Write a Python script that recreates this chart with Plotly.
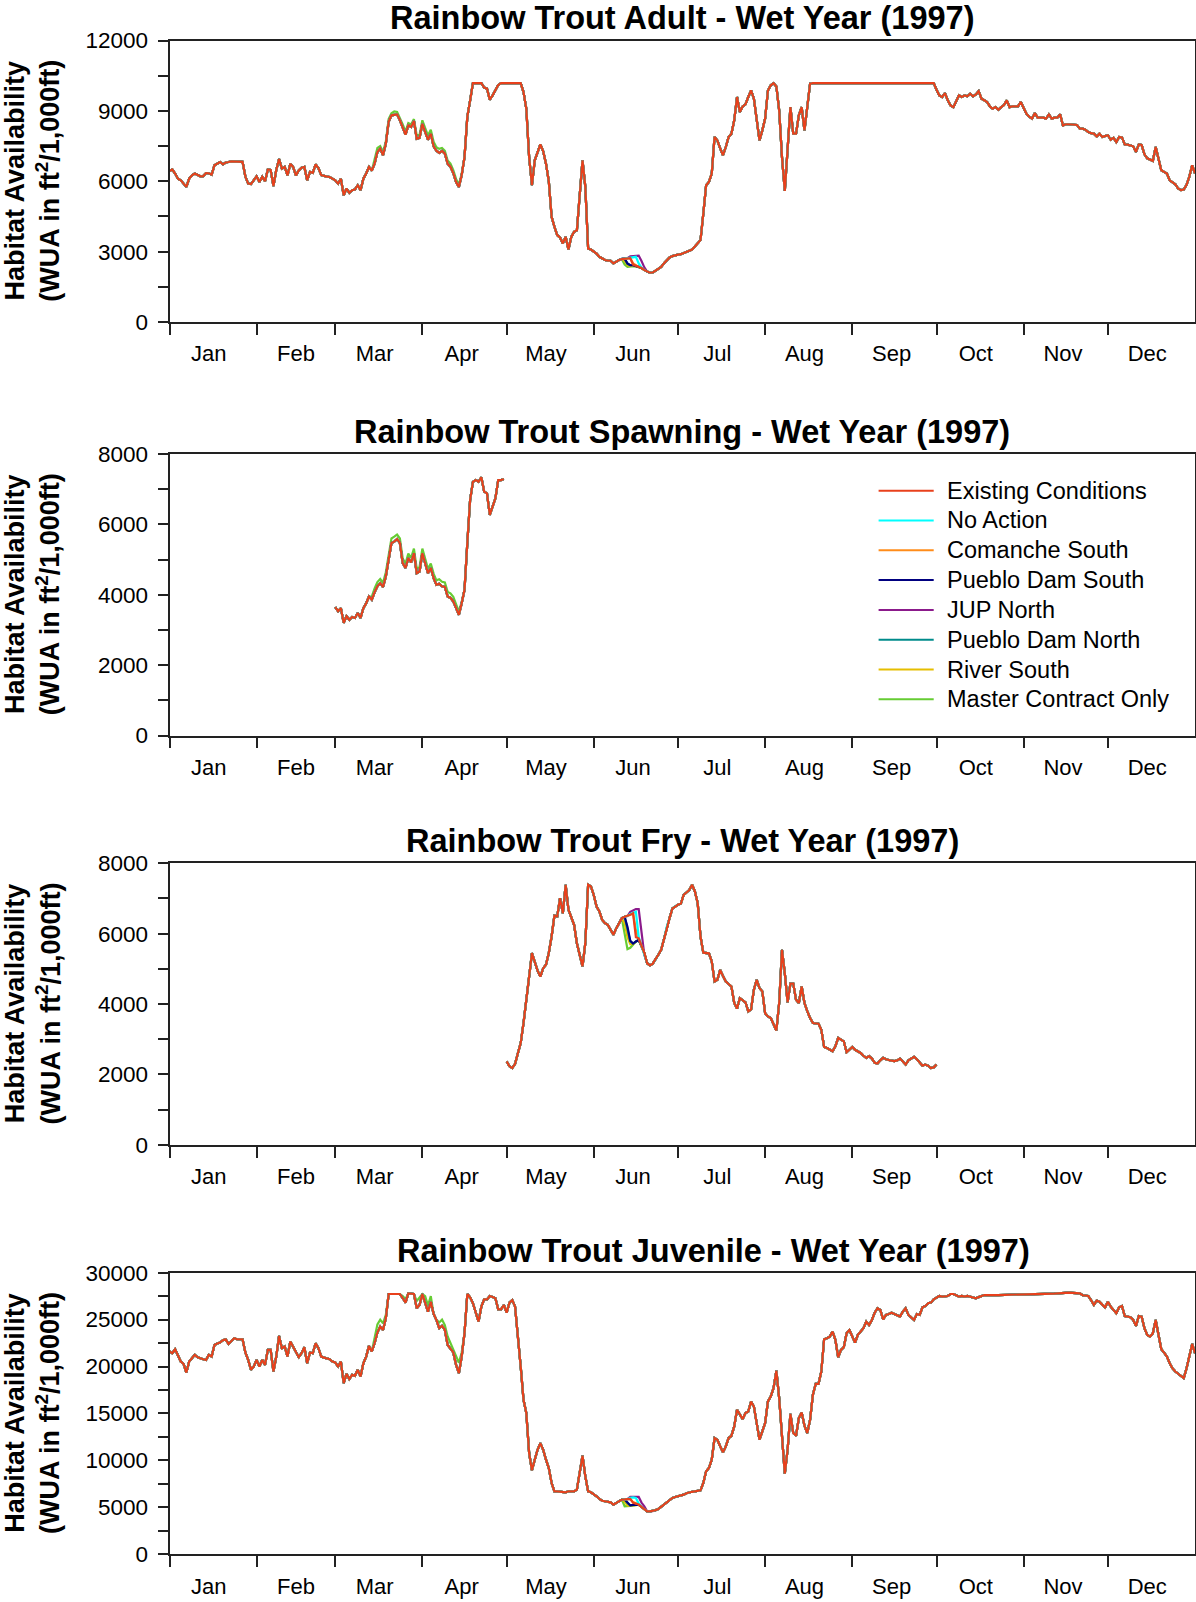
import plotly.graph_objects as go

W, H = 1196, 1602

# ---------------- categories / ticks ----------------
months = ["Jan", "Feb", "Mar", "Apr", "May", "Jun", "Jul", "Aug", "Sep", "Oct", "Nov", "Dec"]
month_start_day = [0, 31, 59, 90, 120, 151, 181, 212, 243, 273, 304, 334]
month_label_day = [14, 45, 73, 104, 134, 165, 195, 226, 257, 287, 318, 348]

scenarios = ["Existing Conditions", "No Action", "Comanche South", "Pueblo Dam South",
             "JUP North", "Pueblo Dam North", "River South", "Master Contract Only"]
colors = ["#E8401C", "#00FFFF", "#FF8C1A", "#000080", "#8B1A8B", "#008B8B", "#E6BE00", "#66CC33"]

titles = ["Rainbow Trout Adult - Wet Year (1997)", "Rainbow Trout Spawning - Wet Year (1997)",
          "Rainbow Trout Fry - Wet Year (1997)", "Rainbow Trout Juvenile - Wet Year (1997)"]
y_max = [12000, 8000, 8000, 30000]
y_major = [3000, 2000, 2000, 5000]
y_minor = [1500, 1000, 1000, 2500]

# ---------------- Adult (Existing Conditions, day of year -> WUA) ----------------
adult_day = [0, 1, 2, 3, 4, 5, 6, 7, 8, 9, 10, 11, 12, 13, 14, 15, 16, 17, 18, 19, 20, 21, 22, 24, 26,
             27, 28, 29, 30, 31, 32, 33, 34, 35, 36, 37, 38, 39, 40, 41, 42, 43, 44, 45, 46, 47, 48, 49,
             50, 51, 52, 53, 54, 55, 56, 57, 58, 59, 60, 61, 62, 63, 64, 65, 66, 67, 68, 69, 70, 71, 72,
             73, 74, 75, 76, 77, 78, 79, 80, 81, 82, 83, 84, 85, 86, 87, 88, 89, 90, 91, 92, 93, 94, 95,
             96, 97, 98, 99, 100, 101, 102, 103, 104, 105, 106, 107, 108, 111, 112, 113, 114, 115, 116,
             117, 118, 125, 126, 127, 128, 129, 130, 131, 132, 133, 134, 135, 136, 137, 138, 139, 140,
             141, 142, 143, 144, 145, 146, 147, 148, 149, 150, 151, 152, 153, 154, 155, 156, 157, 158,
             159, 160, 161, 162, 163, 164, 165, 166, 167, 168, 169, 170, 171, 172, 173, 174, 175, 176,
             177, 178, 179, 180, 181, 182, 183, 184, 185, 186, 187, 188, 189, 190, 191, 192, 193, 194,
             195, 196, 197, 198, 199, 200, 201, 202, 203, 204, 205, 206, 207, 208, 209, 210, 211, 212,
             213, 214, 215, 216, 217, 218, 219, 220, 221, 222, 223, 224, 225, 226, 227, 228, 229, 272,
             273, 274, 275, 276, 277, 278, 279, 280, 281, 282, 283, 284, 285, 286, 287, 288, 289, 290,
             291, 292, 293, 294, 295, 296, 297, 298, 299, 300, 301, 302, 303, 304, 305, 306, 307, 308,
             309, 310, 311, 312, 313, 314, 315, 316, 317, 318, 319, 320, 321, 322, 323, 324, 325, 326,
             327, 328, 329, 330, 331, 332, 333, 334, 335, 336, 337, 338, 339, 340, 341, 342, 343, 344,
             345, 346, 347, 348, 349, 350, 351, 352, 353, 354, 355, 356, 357, 358, 359, 360, 361, 362,
             363, 364, 365]
adult_wua = [6440, 6500, 6330, 6110, 6040, 5900, 5760, 6110, 6250, 6330, 6260, 6210, 6220, 6350, 6340,
             6280, 6680, 6750, 6820, 6720, 6800, 6820, 6850, 6840, 6830,
             6200, 5900, 5880, 6050, 6210, 5970, 6190, 6000, 6500, 6480, 5790, 6480, 6950, 6540, 6610,
             6250, 6750, 6610, 6250, 6460, 6580, 6610, 6040,
             6400, 6360, 6720, 6560, 6260, 6220, 6200, 6180, 6110, 6040, 5900, 6110, 5400, 5690, 5510,
             5620, 5650, 5830, 5620, 6110, 6330, 6610, 6450,
             6750, 7250, 7390, 7110, 7600, 8530, 8810, 8830, 8850, 8600, 8300, 7990, 8380, 8310, 8570,
             7810, 7850, 8450, 8100, 7770, 8030, 7490, 7300,
             7210, 7290, 7180, 6750, 6620, 6350, 5970, 5760, 6260, 7030, 8740, 9450, 10180, 10180, 9990,
             9950, 9480, 9660, 9870,
             10100, 10180, 10180, 9800, 9090, 7030, 5830, 6890, 7250, 7570, 7280, 6750, 6000, 4480, 4060,
             3700, 3600, 3350,
             3630, 3090, 3630, 3840, 3910, 5330, 6890, 5760, 3130, 3090, 3000, 2920, 2780, 2700, 2640,
             2620, 2610, 2500,
             2580, 2640, 2680, 2700, 2710, 2720, 2450, 2400, 2350, 2300, 2210, 2150, 2100, 2110, 2180,
             2260, 2350, 2500,
             2640, 2750, 2810, 2850, 2870, 2890, 2950, 2990, 3040, 3090, 3210, 3350, 3490, 4620, 5830,
             5970, 6330, 7890,
             7740, 7400, 7110, 7460, 7890, 8030, 8600, 9590, 8950, 9190, 9280, 9590, 9870, 9520, 8530,
             7740, 8170, 8670,
             9870, 10090, 10180, 10040, 9020, 7030, 5590, 7390, 9160, 8030, 8030, 8810, 9160, 8170, 9300,
             10160, 10180, 10180,
             9900, 9660, 9590, 9760, 9450, 9230, 9160, 9380, 9660, 9590, 9660, 9620, 9730, 9620, 9700,
             9840, 9520, 9450,
             9380, 9190, 9090, 9160, 9050, 9160, 9250, 9450, 9160, 9190, 9190, 9190, 9380, 9100, 8880,
             8750, 8670, 8910,
             8710, 8710, 8710, 8670, 8850, 8670, 8710, 8710, 8850, 8380, 8430, 8430, 8430, 8430, 8400,
             8240, 8240, 8200,
             8100, 8050, 8030, 7910, 8030, 7890, 7920, 7960, 7770, 7850, 7670, 7890, 7870, 7570, 7560,
             7540, 7490, 7250,
             7570, 7550, 7150, 6980, 6920, 6870, 7460, 7000, 6470, 6400, 6330, 6040, 5950, 5870, 5690,
             5620, 5650, 5850,
             6200, 6680, 6330]

# Adult: Master Contract Only runs slightly higher in March/early April
adult_mar_day = [73, 74, 75, 76, 77, 78, 79, 80, 81, 82, 83, 84, 85, 86, 87, 88, 89, 90, 91, 92, 93,
                 94, 95, 96, 97, 98, 99, 100, 101, 102, 103, 104]
adult_mar_master = [6900, 7420, 7500, 7250, 7700, 8650, 8900, 8980, 8950, 8700, 8420, 8120, 8480, 8420,
                    8650, 7950, 7980, 8600, 8250, 7950, 8200, 7680, 7450, 7380, 7420, 7300, 6880, 6750,
                    6470, 6100, 5850, 6330]

# Adult: June divergence between alternatives
adult_jun_day = [161, 162, 163, 164, 165, 166, 167, 168, 169]
adult_jun = {
    "No Action":            [2680, 2700, 2720, 2760, 2780, 2780, 2500, 2320, 2210],
    "Comanche South":       [2680, 2700, 2710, 2720, 2500, 2420, 2350, 2300, 2210],
    "Pueblo Dam South":     [2690, 2700, 2500, 2420, 2420, 2400, 2350, 2300, 2210],
    "JUP North":            [2680, 2700, 2720, 2800, 2810, 2820, 2830, 2600, 2330],
    "Pueblo Dam North":     [2690, 2700, 2480, 2420, 2420, 2400, 2350, 2300, 2210],
    "River South":          [2680, 2600, 2420, 2390, 2400, 2380, 2350, 2300, 2210],
    "Master Contract Only": [2680, 2450, 2350, 2370, 2380, 2370, 2350, 2300, 2210],
}

# ---------------- Spawning ----------------
spawn_day = [59, 60, 61, 62, 63, 64, 65, 66, 67, 68, 69, 70, 71, 72, 73, 74, 75, 76, 77, 78, 79, 80,
             81, 82, 83, 84, 85, 86, 87, 88, 89, 90, 91, 92, 93, 94, 95, 96, 97, 98, 99, 100, 101, 102,
             103, 104, 105, 106, 107, 108, 109, 110, 111, 112, 113, 114, 115, 116, 117, 118, 119]
spawn_wua = [3650, 3530, 3620, 3200, 3390, 3290, 3370, 3340, 3480, 3340, 3620, 3760, 3950, 3860, 4070,
             4240, 4330, 4220, 4520, 4990, 5470, 5510, 5580, 5470, 4900, 4760, 5040, 4920, 5180, 4610,
             4660, 5180, 4850, 4610, 4760, 4470, 4280, 4310, 4240, 4220, 3950, 3910, 3810, 3620, 3430,
             3760, 4140, 5470, 6700, 7210, 7260, 7210, 7340, 6930, 6880, 6270, 6510, 6740, 7260, 7260,
             7290]
spawn_mar_day = [72, 73, 74, 75, 76, 77, 78, 79, 80, 81, 82, 83, 84, 85, 86, 87, 88, 89, 90, 91, 92,
                 93, 94, 95, 96, 97, 98, 99, 100, 101, 102, 103, 104]
spawn_mar_master = [3950, 4180, 4360, 4450, 4340, 4640, 5110, 5600, 5650, 5710, 5600, 5030, 4890, 5170,
                    5050, 5310, 4740, 4790, 5310, 4980, 4740, 4890, 4600, 4410, 4440, 4370, 4350, 4080,
                    4040, 3940, 3750, 3520, 3800]

# ---------------- Fry ----------------
fry_day = [120, 121, 122, 123, 124, 125, 126, 127, 128, 129, 130, 131, 132, 133, 134, 135, 136, 137,
           138, 139, 140, 141, 142, 143, 144, 145, 146, 147, 148, 149, 150, 151, 152, 153, 154, 155,
           156, 157, 158, 159, 160, 161, 162, 163, 164, 165, 166, 167, 168, 169, 170, 171, 172, 173,
           174, 175, 176, 177, 178, 179, 180, 181, 182, 183, 184, 185, 186, 187, 188, 189, 190, 191,
           192, 193, 194, 195, 196, 197, 198, 199, 200, 201, 202, 203, 204, 205, 206, 207, 208, 209,
           210, 211, 212, 213, 214, 215, 216, 217, 218, 219, 220, 221, 222, 223, 224, 225, 226, 227,
           228, 229, 230, 231, 232, 233, 234, 235, 236, 237, 238, 239, 240, 241, 242, 243, 244, 245,
           246, 247, 248, 249, 250, 251, 252, 253, 254, 255, 256, 257, 258, 259, 260, 261, 262, 263,
           264, 265, 266, 267, 268, 269, 270, 271, 272, 273]
fry_wua = [2370, 2230, 2180, 2300, 2600, 2890, 3460, 4050, 4780, 5450, 5160, 4950, 4780, 5020, 5120,
           5450, 5920, 6510, 6490, 7010, 6580, 7390, 6680, 6450, 6250, 5730, 5400, 5070, 5730, 7390,
           7340, 7100, 6770, 6630, 6390, 6300, 6250, 6100, 5970, 6150, 6300, 6440, 6480, 6500, 6540,
           6580, 5900, 5870, 5650, 5450, 5160, 5100, 5150, 5260, 5400, 5540, 5850, 6200, 6450, 6720,
           6780, 6820, 6850, 7100, 7170, 7240, 7390, 7200, 6870, 5920, 5460, 5450, 5440, 5210, 4640,
           4690, 4970, 4800, 4640, 4570, 4500, 4030, 3870, 4170, 4100, 4050, 3790, 3850, 4410, 4690,
           4450, 4360, 3740, 3650, 3600, 3400, 3250, 4030, 5540, 4880, 4050, 4580, 4580, 4120, 4030,
           4500, 4030, 3800, 3600, 3460, 3450, 3440, 3270, 2780, 2750, 2700, 2660, 2800, 3040, 2990,
           2940, 2630, 2700, 2780, 2700, 2650, 2610, 2530, 2470, 2520, 2450, 2330, 2310, 2400, 2470,
           2430, 2400, 2390, 2380, 2400, 2450, 2350, 2280, 2400, 2450, 2500, 2430, 2350, 2250, 2280,
           2250, 2180, 2200, 2280]
fry_jun_day = [161, 162, 163, 164, 165, 166, 167, 168, 169]
fry_jun = {
    "No Action":            [6440, 6480, 6500, 6560, 6600, 6620, 5900, 5650, 5450],
    "Comanche South":       [6440, 6480, 6500, 6540, 6580, 6100, 5870, 5650, 5450],
    "Pueblo Dam South":     [6440, 6480, 6200, 5800, 5720, 5780, 5820, 5650, 5450],
    "JUP North":            [6440, 6480, 6500, 6620, 6660, 6700, 6700, 6000, 5400],
    "Pueblo Dam North":     [6440, 6480, 6150, 5780, 5720, 5780, 5820, 5650, 5450],
    "River South":          [6440, 6300, 5900, 5700, 5700, 5780, 5820, 5650, 5450],
    "Master Contract Only": [6440, 6000, 5560, 5600, 5680, 5780, 5820, 5650, 5450],
}

# ---------------- Juvenile ----------------
juv_day = [0, 1, 2, 3, 4, 5, 6, 7, 8, 9, 10, 11, 12, 13, 14, 15, 16, 17, 18, 19, 20, 21, 22, 23, 24,
           25, 26, 27, 28, 29, 30, 31, 32, 33, 34, 35, 36, 37, 38, 39, 40, 41, 42, 43, 44, 45, 46, 47,
           48, 49, 50, 51, 52, 53, 54, 55, 56, 57, 58, 59, 60, 61, 62, 63, 64, 65, 66, 67, 68, 69, 70,
           71, 72, 73, 74, 75, 76, 77, 78, 79, 80, 81, 82, 83, 84, 85, 86, 87, 88, 89, 90, 91, 92, 93,
           94, 95, 96, 97, 98, 99, 100, 101, 102, 103, 104, 105, 106, 107, 108, 109, 110, 111, 112, 113,
           114, 115, 116, 117, 118, 119, 120, 121, 122, 123, 124, 125, 126, 127, 128, 129, 130, 131,
           132, 133, 134, 135, 136, 137, 138, 139, 140, 141, 142, 143, 144, 145, 146, 147, 148, 149,
           150, 151, 152, 153, 154, 155, 156, 157, 158, 159, 160, 161, 162, 163, 164, 165, 166, 167,
           168, 169, 170, 171, 172, 173, 174, 175, 176, 177, 178, 179, 180, 181, 182, 183, 184, 185,
           186, 187, 188, 189, 190, 191, 192, 193, 194, 195, 196, 197, 198, 199, 200, 201, 202, 203,
           204, 205, 206, 207, 208, 209, 210, 211, 212, 213, 214, 215, 216, 217, 218, 219, 220, 221,
           222, 223, 224, 225, 226, 227, 228, 229, 230, 231, 232, 233, 234, 235, 236, 237, 238, 239,
           240, 241, 242, 243, 244, 245, 246, 247, 248, 249, 250, 251, 252, 253, 254, 255, 256, 257,
           258, 259, 260, 261, 262, 263, 264, 265, 266, 267, 268, 269, 270, 271, 272, 273, 274, 275,
           276, 277, 278, 279, 280, 281, 282, 283, 284, 285, 286, 287, 288, 289, 290, 295, 300, 305,
           310, 315, 320, 324, 325, 326, 327, 328, 329, 330, 331, 332, 333, 334, 335, 336, 337, 338,
           339, 340, 341, 342, 343, 344, 345, 346, 347, 348, 349, 350, 351, 352, 353, 354, 355, 356,
           357, 358, 359, 360, 361, 362, 363, 364, 365]
juv_wua = [21600, 21420, 21840, 21240, 20530, 20280, 19360, 20530, 20890, 21240, 20990, 20850, 20780,
           20710, 21240, 21060, 22300, 22450, 22550, 22800, 22910, 22410, 22770, 23010, 22910,
           22910, 22910, 21500, 20710, 19650, 20000, 20710, 20000, 20710, 20180, 21770, 21770, 19470,
           21060, 23260, 21950, 22130, 21060, 22660, 22130, 21600, 20990, 21420,
           22060, 20350, 21490, 21420, 22480, 21950, 21060, 20950, 20850, 20780, 20530, 20430, 20000,
           20530, 18230, 19220, 18650, 19110, 19010, 19650, 18940, 20350, 21060,
           22200, 21600, 22480, 23620, 24260, 23900, 25140, 27730, 27730, 27730, 27730, 27730, 27300,
           26810, 27800, 27750, 27730, 26210, 26560, 27730, 26740, 25850, 26910,
           25600, 24960, 24080, 24330, 23900, 22300, 21950, 21500, 20180, 19290, 21060, 23550, 27730,
           27380, 26740, 25670, 24790, 26380, 27160, 27160,
           27520, 27400, 27270, 26100, 26100, 26560, 25740, 26810, 27090, 26380, 23550, 20000, 16450,
           15040, 10780, 8940, 10070, 11130,
           11840, 11130, 10070, 9180, 7590, 6700, 6700, 6650, 6600, 6600, 6700, 6700, 6700, 6880, 8720,
           10500, 8300, 6700,
           6600, 6400, 6170, 5890, 5700, 5640, 5580, 5530, 5280, 5450, 5640, 5820, 5840, 5860, 5900,
           5470, 5380, 5290,
           5040, 4800, 4570, 4570, 4600, 4700, 4820, 5050, 5280, 5600, 5820, 6000, 6100, 6170, 6250,
           6350, 6500, 6600,
           6650, 6700, 6750, 6810, 7590, 8830, 9180, 10070, 12380, 12200, 11500, 10850, 11490, 12380,
           12620, 13620, 15390, 14860,
           14400, 15040, 15210, 16280, 15740, 13970, 12200, 13090, 13970, 16280, 16810, 17700, 19570,
           16630, 12550, 8580, 11130, 14960,
           12910, 12620, 14500, 15110, 13690, 12910, 14330, 16990, 18160, 18160, 19470, 22910, 23010,
           23190, 23720, 22840, 20990, 21770,
           22060, 23550, 23900, 23190, 22550, 23370, 23720, 24080, 24790, 24430, 24960, 25740, 26210,
           26030, 25030, 25500, 25600, 25740,
           25600, 25450, 25320, 25850, 26210, 25500, 25250, 24960, 25600, 25500, 26310, 26450, 26740,
           26810, 27160, 27380, 27520, 27450,
           27450, 27520, 27730, 27730, 27600, 27450, 27520, 27450, 27520, 27450, 27400, 27270, 27400,
           27520, 27620, 27620, 27650, 27730,
           27730, 27780, 27870, 27800, 27600, 27520, 27520, 27090, 26560, 27020, 26910, 26600, 26310,
           26910, 26380, 26030, 25670, 26310,
           26450, 25390, 25300, 25250, 24960, 24330, 25390, 25320, 24080, 23370, 23190, 23550, 24960,
           23550, 21840, 21490, 21060, 20350,
           19800, 19470, 19200, 18940, 18760, 19820, 21060, 22410, 21420]
juv_mar_day = [73, 74, 75, 76, 77, 78, 79, 80, 81, 82, 83, 84, 85, 86, 87, 88, 89, 90, 91, 92, 93, 94,
               95, 96, 97, 98, 99, 100, 101, 102, 103, 104]
juv_mar_master = [23000, 24500, 25000, 24600, 25500, 27730, 27730, 27730, 27730, 27730, 27500, 27200,
                  27800, 27730, 27730, 27000, 27400, 27730, 27500, 26500, 27500, 25600, 25000, 24700,
                  25000, 24400, 23200, 22500, 21800, 21000, 20400, 21500]
juv_jun_day = [161, 162, 163, 164, 165, 166, 167, 168, 169]
juv_jun = {
    "No Action":            [5820, 5840, 5860, 6000, 6050, 6000, 5400, 5050, 4800],
    "Comanche South":       [5820, 5840, 5860, 5900, 5550, 5400, 5290, 5040, 4800],
    "Pueblo Dam South":     [5820, 5840, 5500, 5200, 5250, 5300, 5290, 5040, 4800],
    "JUP North":            [5820, 5840, 5860, 6100, 6100, 6100, 6100, 5500, 5110],
    "Pueblo Dam North":     [5820, 5840, 5450, 5200, 5250, 5300, 5290, 5040, 4800],
    "River South":          [5820, 5600, 5200, 5150, 5200, 5250, 5290, 5040, 4800],
    "Master Contract Only": [5820, 5110, 5110, 5150, 5200, 5250, 5290, 5040, 4800],
}

panels = [
    (adult_day, adult_wua, [(adult_mar_day, {"Master Contract Only": adult_mar_master}),
                            (adult_jun_day, adult_jun)]),
    (spawn_day, spawn_wua, [(spawn_mar_day, {"Master Contract Only": spawn_mar_master})]),
    (fry_day, fry_wua, [(fry_jun_day, fry_jun)]),
    (juv_day, juv_wua, [(juv_mar_day, {"Master Contract Only": juv_mar_master}),
                        (juv_jun_day, juv_jun)]),
]


def scenario_series(base_day, base_val, windows, name):
    d = dict(zip(base_day, base_val))
    for wday, wdict in windows:
        if name in wdict:
            for k, v in zip(wday, wdict[name]):
                d[k] = v
    keys = sorted(d)
    return keys, [d[k] for k in keys]


# ---------------- layout geometry (pixels) ----------------
plot_left, plot_right = 169.5, 1195.0
panel_top = [40.5, 454.0, 863.3, 1272.7]
panel_h = 281.5
title_dx = [0, 0, 0, 31]   # the juvenile title sits a little right of centre in the original

# legend geometry (inside the spawning panel)
leg_line_x0, leg_line_x1, leg_text_x = 878.6, 933.7, 945.0
leg_y0, leg_dy = 490.7, 29.8


def px(x):
    return x / W


def py(y):
    return 1 - y / H


FONT = "Liberation Sans, Arial, Helvetica, sans-serif"

fig = go.Figure()

for p, (bday, bval, windows) in enumerate(panels):
    xa = "x" if p == 0 else f"x{p + 1}"
    ya = "y" if p == 0 else f"y{p + 1}"
    for i in reversed(range(len(scenarios))):
        name = scenarios[i]
        xs, ys = scenario_series(bday, bval, windows, name)
        fig.add_trace(go.Scatter(
            x=xs, y=ys, mode="lines", name=name,
            line=dict(color=colors[i], width=2.2),
            xaxis=xa, yaxis=ya,
            showlegend=False, legendgroup=name,
            hoverinfo="skip",
        ))

layout = dict(
    width=W, height=H,
    margin=dict(l=0, r=0, t=0, b=0, autoexpand=False),
    paper_bgcolor="white", plot_bgcolor="white",
    font=dict(family=FONT, color="black", size=22),
    showlegend=False,
)

annotations = []
shapes = []
for p in range(4):
    top = panel_top[p]
    bottom = top + panel_h
    xkey = "xaxis" if p == 0 else f"xaxis{p + 1}"
    ykey = "yaxis" if p == 0 else f"yaxis{p + 1}"
    xa = "x" if p == 0 else f"x{p + 1}"
    ya = "y" if p == 0 else f"y{p + 1}"
    layout[xkey] = dict(
        domain=[px(plot_left), px(plot_right)], anchor=ya,
        range=[0, 365], fixedrange=True, automargin=False,
        tickmode="array", tickvals=month_label_day, ticktext=months,
        ticks="", ticklabelstandoff=11,
        tickfont=dict(family=FONT, size=22, color="black"),
        showgrid=False, zeroline=False,
        showline=True, mirror=True, linecolor="#222222", linewidth=1.8,
        minor=dict(tickmode="array", tickvals=month_start_day, ticks="outside",
                   ticklen=11, tickwidth=1.8, tickcolor="#222222", showgrid=False),
    )
    layout[ykey] = dict(
        domain=[py(bottom), py(top)], anchor=xa,
        range=[0, y_max[p]], fixedrange=True, automargin=False,
        tickmode="linear", tick0=0, dtick=y_major[p],
        tickformat="d", exponentformat="none", separatethousands=False,
        ticks="outside", ticklen=10, tickwidth=1.8, tickcolor="#222222",
        ticklabelstandoff=5,
        tickfont=dict(family=FONT, size=22.5, color="black"),
        showgrid=False, zeroline=False,
        showline=True, mirror=True, linecolor="#222222", linewidth=1.8,
        minor=dict(dtick=y_minor[p], tick0=0, ticks="outside", ticklen=10,
                   tickwidth=1.8, tickcolor="#222222", showgrid=False),
    )
    annotations.append(dict(
        text=f"<b>{titles[p]}</b>", xref="paper", yref="paper",
        x=px((plot_left + plot_right) / 2 + title_dx[p]), y=py(top - 22),
        xanchor="center", yanchor="middle", showarrow=False,
        font=dict(family=FONT, size=32.5, color="black"),
    ))
    annotations.append(dict(
        text="<b>Habitat Availability</b><br><b>(WUA in ft<sup>2</sup>/1,000ft)</b>",
        xref="paper", yref="paper",
        x=px(32.5), y=py(top + panel_h / 2),
        xanchor="center", yanchor="middle", showarrow=False, textangle=-90,
        font=dict(family=FONT, size=27, color="black"),
    ))

# legend drawn inside the spawning panel
for i, name in enumerate(scenarios):
    yy = leg_y0 + i * leg_dy
    shapes.append(dict(type="line", xref="paper", yref="paper",
                       x0=px(leg_line_x0), x1=px(leg_line_x1), y0=py(yy), y1=py(yy),
                       line=dict(color=colors[i], width=2)))
    annotations.append(dict(
        text=name, xref="paper", yref="paper",
        x=px(leg_text_x), y=py(yy), xanchor="left", yanchor="middle", showarrow=False,
        font=dict(family=FONT, size=23.5, color="black"),
    ))

layout["annotations"] = annotations
layout["shapes"] = shapes
fig.update_layout(**layout)

fig.write_html("out.html", config={"displayModeBar": False, "staticPlot": False},
               post_script="document.body.style.margin='0px';")
